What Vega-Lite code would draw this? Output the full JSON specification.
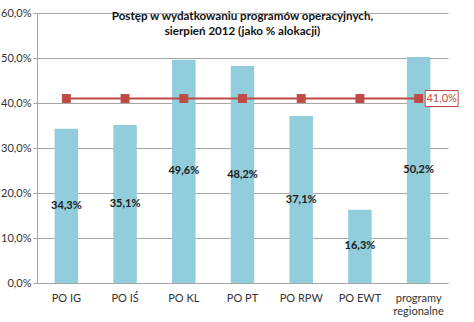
{
  "$schema": "https://vega.github.io/schema/vega-lite/v6.json",
  "width": 411,
  "height": 270,
  "autosize": {"type": "none"},
  "padding": {"left": 37, "top": 13, "right": 26, "bottom": 39},
  "background": "white",
  "config": {
    "view": {"stroke": null},
    "font": "Lato",
    "locale": {"number": {"decimal": ",", "thousands": " ", "grouping": [3], "currency": ["", " zł"]}}
  },
  "title": {
    "text": ["Postęp w wydatkowaniu programów operacyjnych,", "sierpień 2012 (jako % alokacji)"],
    "fontSize": 11.6,
    "fontWeight": "bold",
    "color": "#111111",
    "anchor": "middle",
    "offset": -31,
    "lineHeight": 15
  },
  "data": {
    "values": [
      {"cat": "PO IG", "val": 0.343, "avg": 0.41},
      {"cat": "PO IŚ", "val": 0.351, "avg": 0.41},
      {"cat": "PO KL", "val": 0.496, "avg": 0.41},
      {"cat": "PO PT", "val": 0.482, "avg": 0.41},
      {"cat": "PO RPW", "val": 0.371, "avg": 0.41},
      {"cat": "PO EWT", "val": 0.163, "avg": 0.41},
      {"cat": "programy regionalne", "val": 0.502, "avg": 0.41}
    ]
  },
  "encoding": {
    "x": {
      "field": "cat",
      "type": "nominal",
      "sort": null,
      "scale": {"paddingInner": 0.6, "paddingOuter": 0.3},
      "axis": {
        "title": null,
        "labelAngle": 0,
        "ticks": false,
        "labelPadding": 9,
        "labelFontSize": 11,
        "labelColor": "#333333",
        "domainColor": "#A6A6A6",
        "labelExpr": "datum.value == 'programy regionalne' ? ['programy', 'regionalne'] : datum.value"
      }
    }
  },
  "layer": [
    {
      "mark": {"type": "bar", "color": "#92CDDC"},
      "encoding": {
        "y": {
          "field": "val",
          "type": "quantitative",
          "scale": {"domain": [0, 0.6]},
          "axis": {
            "title": null,
            "values": [0, 0.1, 0.2, 0.3, 0.4, 0.5, 0.6],
            "format": ".1%",
            "labelFontSize": 11,
            "labelColor": "#333333",
            "gridColor": "#A6A6A6",
            "domainColor": "#A6A6A6",
            "tickColor": "#A6A6A6",
            "tickSize": 4,
            "labelPadding": 2
          }
        }
      }
    },
    {
      "mark": {"type": "line", "color": "#BE4B48", "strokeWidth": 2},
      "encoding": {
        "y": {"field": "avg", "type": "quantitative", "scale": {"domain": [0, 0.6]}, "axis": null}
      }
    },
    {
      "mark": {"type": "point", "shape": "square", "filled": true, "size": 80, "color": "#BE4B48", "opacity": 1},
      "encoding": {
        "y": {"field": "avg", "type": "quantitative", "scale": {"domain": [0, 0.6]}, "axis": null}
      }
    },
    {
      "transform": [{"filter": "datum.cat === 'programy regionalne'"}],
      "mark": {"type": "point", "shape": "M-1,-0.485H1V0.485H-1Z", "filled": true, "fill": "white", "stroke": "#BE4B48", "strokeWidth": 1, "size": 1089, "xOffset": 23, "opacity": 1},
      "encoding": {
        "y": {"field": "avg", "type": "quantitative", "scale": {"domain": [0, 0.6]}, "axis": null}
      }
    },
    {
      "transform": [{"filter": "datum.cat === 'programy regionalne'"}],
      "mark": {"type": "text", "color": "#BE4B48", "fontSize": 11, "xOffset": 23, "align": "center", "baseline": "middle"},
      "encoding": {
        "y": {"field": "avg", "type": "quantitative", "scale": {"domain": [0, 0.6]}, "axis": null},
        "text": {"field": "avg", "type": "quantitative", "format": ".1%"}
      }
    },
    {
      "mark": {"type": "text", "fontSize": 11, "fontWeight": "bold", "color": "#1A1A1A", "baseline": "middle"},
      "encoding": {
        "y": {"field": "val", "type": "quantitative", "scale": {"domain": [0, 1.2]}, "axis": null},
        "text": {"field": "val", "type": "quantitative", "format": ".1%"}
      }
    }
  ],
  "resolve": {"scale": {"y": "independent"}}
}
